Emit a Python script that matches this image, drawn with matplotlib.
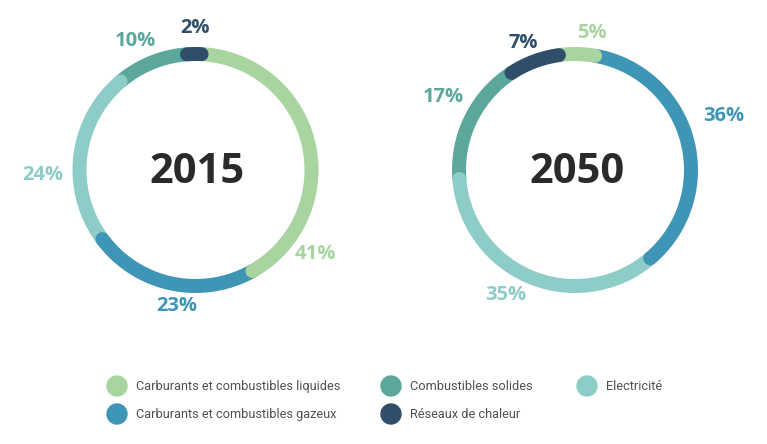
import numpy as np
import matplotlib
matplotlib.use("Agg")
import matplotlib.pyplot as plt
from matplotlib import font_manager

# ---- data ----
categories = ["Carburants et combustibles liquides", "Carburants et combustibles gazeux",
              "Electricité", "Combustibles solides", "Réseaux de chaleur"]
years = ["2015", "2050"]
shares_2015 = [41, 23, 24, 10, 2]
shares_2050 = [5, 36, 35, 17, 7]

colors = ["#a8d49f", "#3f95b6", "#8ecdc7", "#5ba79c", "#2e4e69"]

# ---- layout ----
W, H = 767, 444
fig = plt.figure(figsize=(W / 100, H / 100), dpi=100)

def has_font(name):
    try:
        font_manager.findfont(name, fallback_to_default=False)
        return True
    except Exception:
        return False

title_font = "Open Sans" if has_font("Open Sans") else "DejaVu Sans"
legend_font = "Roboto" if has_font("Roboto") else "DejaVu Sans"

def px(x, y):
    return x / W, 1 - y / H

ring_r = 116
ring_lw = 14 * 72 / 100
rmax = 165

charts = [
    dict(year=years[0], vals=shares_2015, cx=195.5, cy=170, start=3,
         label_ang=[125, 188, 268, 335, 0], label_r=[146, 137, 153, 142, 142]),
    dict(year=years[1], vals=shares_2050, cx=575, cy=170, start=-8,
         label_ang=[7, 70, 209, 299, 338], label_r=[138, 158, 143, 151, 137]),
]

for ch in charts:
    size = 2 * rmax
    x0, y0 = ch["cx"] - rmax, ch["cy"] + rmax
    ax = fig.add_axes([x0 / W, 1 - y0 / H, size / W, size / H], projection="polar")
    ax.set_theta_zero_location("N")
    ax.set_theta_direction(-1)
    ax.set_ylim(0, rmax)
    ax.set_axis_off()
    n = len(ch["vals"])
    a = ch["start"]
    for i, v in enumerate(ch["vals"]):
        a1 = a + v * 3.6
        th = np.radians(np.linspace(a, a1, 200))
        z = n + 1 if i == n - 1 else n - i
        ax.plot(th, np.full_like(th, ring_r), color=colors[i], lw=ring_lw,
                solid_capstyle="round", zorder=z, clip_on=False)
        ax.text(np.radians(ch["label_ang"][i]), ch["label_r"][i], f"{v}%",
                ha="center", va="center", fontsize=14.5, fontweight="bold",
                color=colors[i], family=title_font, clip_on=False)
        a = a1
    fig.text(*px(ch["cx"] + 2, ch["cy"] + 2), ch["year"], ha="center", va="center",
             fontsize=30, fontweight="bold", color="#2a2a2a", family=title_font)

# ---- legend ----
leg_pos = [(117, 386), (117, 414), (587, 386), (391, 386), (391, 414)]
for i, name in enumerate(categories):
    mx, my = leg_pos[i]
    fig.patches.append(matplotlib.patches.Ellipse(px(mx, my), 20 / W, 20 / H,
                                                  transform=fig.transFigure,
                                                  color=colors[i]))
    fig.text(*px(mx + 19, my), name, ha="left", va="center", fontsize=9.2,
             color="#505050", family=legend_font)

fig.savefig("out.png", dpi=100)
